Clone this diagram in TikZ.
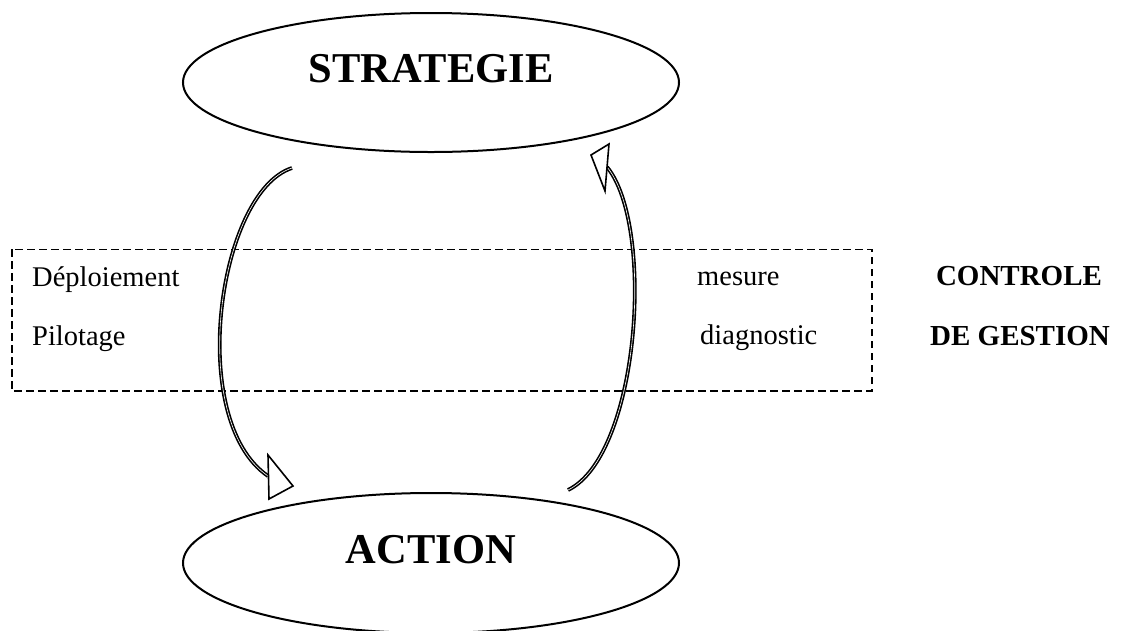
\documentclass[tikz,border=0pt]{standalone}
\usepackage{fontspec}
\setmainfont{Liberation Serif}
\usetikzlibrary{shapes.geometric}

\tikzset{
  bubble/.style={ellipse, draw, line width=2pt, inner sep=0pt,
                 minimum width=496pt},
  bigword/.style={inner sep=0pt, anchor=base, font=\fontsize{42.5}{46}\selectfont\bfseries},
  label/.style={inner sep=0pt, anchor=base west, font=\fontsize{28.5}{32}\selectfont},
  title/.style={inner sep=0pt, anchor=base, font=\fontsize{29}{32}\selectfont\bfseries},
  frame/.style={draw, line width=1.6pt, dash pattern=on 7.3pt off 4.7pt},
  band/.style={double, line width=1.6pt, double distance=0.6pt, line cap=butt},
  head/.style={draw, fill=white, line width=1.6pt, line join=miter}
}

\begin{document}
\begin{tikzpicture}[x=1pt, y=-1pt]
  \useasboundingbox (0,0) rectangle (1121,630);

  % the two poles of the loop
  \node[bubble, minimum height=139pt] (strat) at (431,82.5) {};
  \node[bigword] (stratlbl) at (431,82) {STRATEGIE};
  \node[bubble, minimum height=140pt] (act) at (431,563) {};
  \node[bigword] (actlbl) at (431,563) {ACTION};

  % dashed band of management control
  \draw[frame] (11.7,249.3) rectangle (871.7,390.7);
  \node[label] (deploy) at (32,286) {Déploiement};
  \node[label] (pilot)  at (32,345) {Pilotage};
  \node[label] (mesure) at (697,285) {mesure};
  \node[label] (diag)   at (700,344) {diagnostic};
  \node[title] (ctrl) at (1019,285) {CONTROLE};
  \node[title] (gest) at (1020,345) {DE GESTION};

  % end points of the curved arrows
  \coordinate (downstart) at (292,168);
  \coordinate (downend)   at (268,476);
  \coordinate (upstart)   at (568,490);
  \coordinate (upend)     at (607,167);

  % strategy -> action
  \draw[band] (downstart) .. controls (218,192) and (186,420) .. (downend);
  \draw[head] (268,455) -- (293,486) -- (269,499) -- cycle;

  % action -> strategy
  \draw[band] (upstart) .. controls (640,455) and (655,225) .. (upend);
  \draw[head] (609,144) -- (591,155) -- (605,191) -- cycle;
\end{tikzpicture}
\end{document}
